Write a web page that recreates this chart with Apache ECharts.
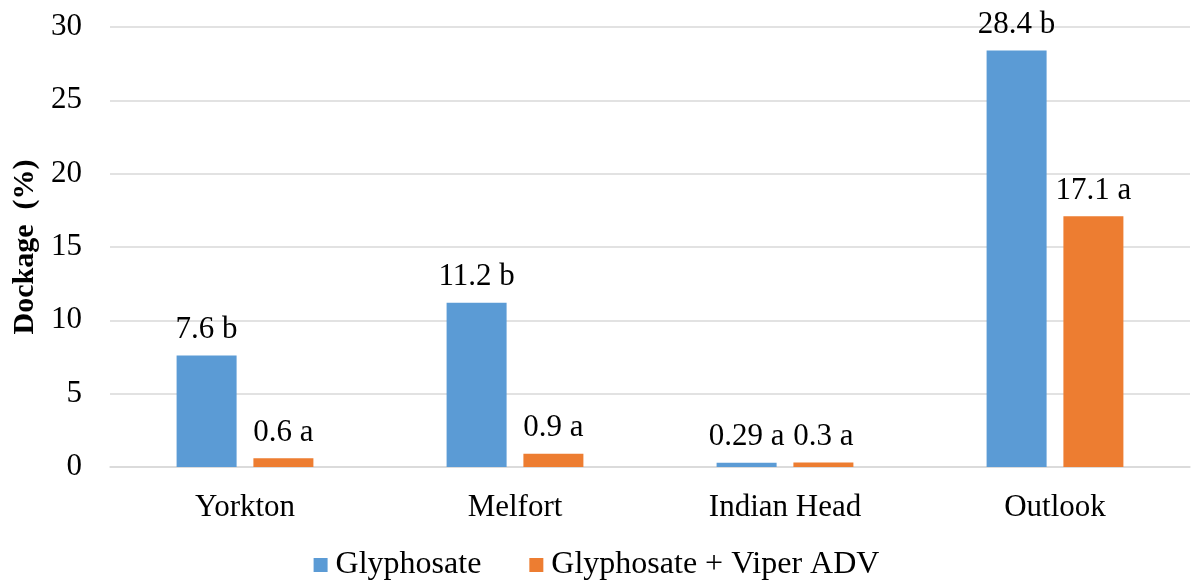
<!DOCTYPE html>
<html><head><meta charset="utf-8">
<script src="https://cdn.jsdelivr.net/npm/echarts@6/dist/echarts.min.js"></script>
<style>html,body{margin:0;padding:0;background:#fff}#c{width:1193px;height:584px}</style>
</head><body><div id="c"></div>
<script>
const categories = ['Yorkton', 'Melfort', 'Indian Head', 'Outlook'];
const glyphosate = [7.6, 11.2, 0.29, 28.4];
const glyphosateLetters = ['b', 'b', 'a', 'b'];
const viper = [0.6, 0.9, 0.3, 17.1];
const viperLetters = ['a', 'a', 'a', 'a'];
const seriesNames = ['Glyphosate', 'Glyphosate + Viper ADV'];
const FONT = '"Liberation Serif","Times New Roman",serif';

const chart = echarts.init(document.getElementById('c'));
function lbl(letters) {
  return {
    show: true, position: 'top', distance: 10,
    fontFamily: FONT, fontSize: 31, color: '#000',
    formatter: p => p.value + ' ' + letters[p.dataIndex]
  };
}
chart.setOption({
  animation: false,
  textStyle: { fontFamily: FONT },
  grid: { left: 110, right: 3, top: 27, bottom: 117 },
  legend: {
    bottom: -2, left: 'center', itemWidth: 14, itemHeight: 14, itemGap: 48,
    icon: 'rect',
    textStyle: { fontFamily: FONT, fontSize: 32, color: '#000', padding: [0, 0, 0, 3] },
    data: seriesNames
  },
  xAxis: {
    type: 'category', data: categories,
    axisLine: { lineStyle: { color: '#d9d9d9', width: 1.5 } },
    axisTick: { show: false },
    axisLabel: { fontFamily: FONT, fontSize: 31, color: '#000', margin: 25 }
  },
  yAxis: {
    type: 'value', min: 0, max: 30, interval: 5,
    name: 'Dockage  (%)', nameLocation: 'middle', nameGap: 68,
    nameTextStyle: { fontFamily: FONT, fontSize: 30, fontWeight: 'bold', color: '#000' },
    axisLine: { show: false }, axisTick: { show: false },
    splitLine: { lineStyle: { color: '#d9d9d9', width: 1.5 } },
    axisLabel: { fontFamily: FONT, fontSize: 31, color: '#000', margin: 28 }
  },
  series: [
    { name: seriesNames[0], type: 'bar', data: glyphosate, barWidth: 60, barGap: '28%',
      itemStyle: { color: '#5b9bd5' }, label: lbl(glyphosateLetters) },
    { name: seriesNames[1], type: 'bar', data: viper, barWidth: 60,
      itemStyle: { color: '#ed7d31' }, label: lbl(viperLetters) }
  ]
});
</script></body></html>
